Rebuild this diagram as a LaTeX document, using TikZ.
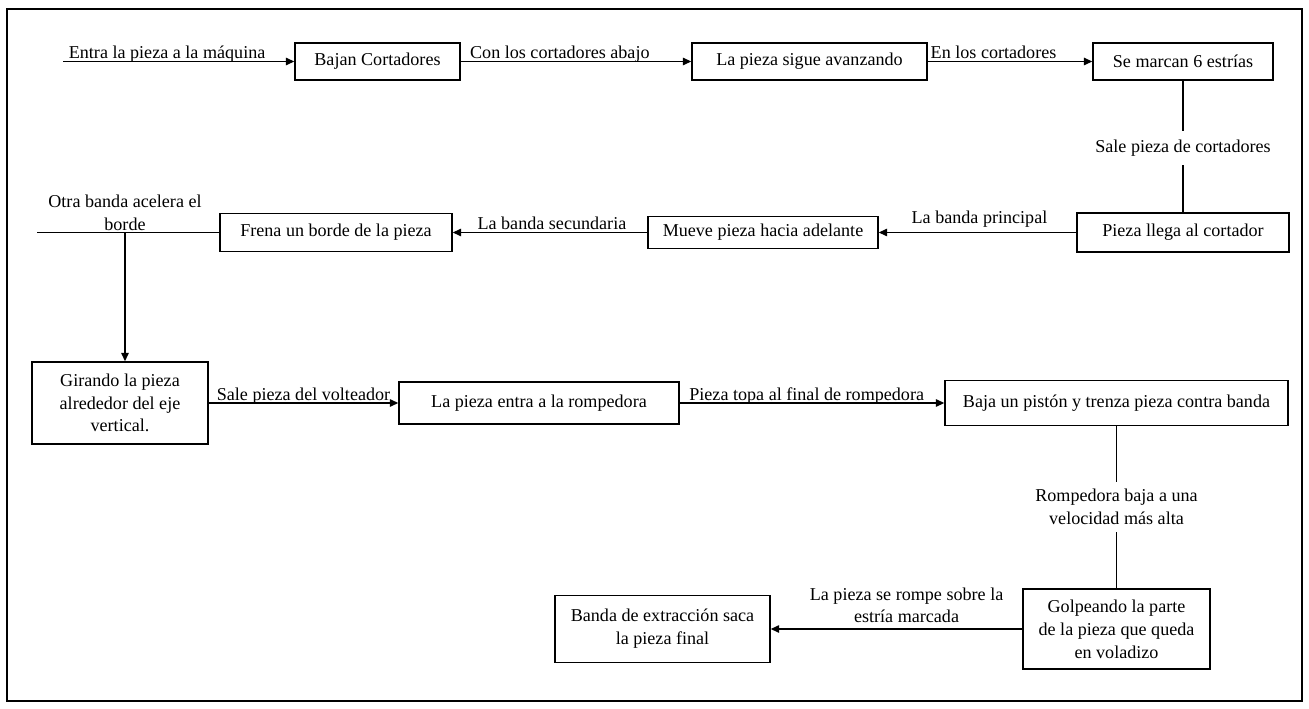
\documentclass[tikz,border=0pt]{standalone}
\usepackage{fontspec}
\setmainfont{Liberation Serif}
\usetikzlibrary{arrows.meta}

\begin{document}
\begin{tikzpicture}[>={Triangle[length=1.7mm, width=1.5mm]},
    every node/.style={font=\fontsize{10.3}{13}\selectfont},
    caja/.style={draw, line width=0.8pt, align=center, minimum height=0.74cm},
    flecha/.style={->, line width=0.8pt},
    linea/.style={line width=0.8pt},
    etiq/.style={anchor=base, yshift=1.5pt, inner sep=0pt}]
    \useasboundingbox (0,0) rectangle (26.18,-14.18);
    \draw[line width=1pt] (0.14,-0.18) rectangle (26.04,-14.02);

    \coordinate (entrada) at (1.26,-1.23);
    \node[caja, minimum width=3.30cm] (bajan) at (7.55,-1.23) {Bajan Cortadores};
    \node[caja, minimum width=4.70cm] (sigue) at (16.19,-1.23) {La pieza sigue avanzando};
    \node[caja, minimum width=3.60cm] (marcan) at (23.66,-1.23) {Se marcan 6 estrías};
    \draw[flecha] (entrada) -- node[etiq, pos=0.45] {Entra la pieza a la máquina} (bajan);
    \draw[flecha] (bajan) -- node[etiq, pos=0.43] {Con los cortadores abajo} (sigue);
    \draw[flecha] (sigue) -- node[etiq, pos=0.40] {En los cortadores} (marcan);

    \node[inner sep=5pt] (salecort) at (23.66,-2.96) {Sale pieza de cortadores};
    \node[caja, minimum width=4.24cm, minimum height=0.78cm] (llega) at (23.66,-4.65) {Pieza llega al cortador};
    \node[caja, minimum width=4.60cm, minimum height=0.64cm] (mueve) at (15.26,-4.65) {Mueve pieza hacia adelante};
    \node[caja, minimum width=4.64cm, minimum height=0.76cm] (frena) at (6.72,-4.65) {Frena un borde de la pieza};
    \draw[linea] (marcan) -- (salecort) -- (llega);
    \draw[flecha] (llega) -- node[etiq, pos=0.49, yshift=3.5pt] {La banda principal} (mueve);
    \draw[flecha] (mueve) -- node[etiq, pos=0.49] {La banda secundaria} (frena);

    \coordinate (izq) at (0.74,-4.65);
    \coordinate (rama) at (2.50,-4.65);
    \draw[linea] (frena) -- (izq);
    \node[above, inner sep=1pt, align=center] (otra) at (rama) {Otra banda acelera el\\borde};
    \node[caja, minimum width=3.52cm, minimum height=1.64cm] (girando) at (2.40,-8.06) {Girando la pieza\\alrededor del eje\\vertical.};
    \draw[flecha] (rama) -- (rama |- girando.north);

    \node[caja, minimum width=5.60cm, minimum height=0.84cm] (entra) at (10.78,-8.06) {La pieza entra a la rompedora};
    \node[caja, minimum width=6.86cm, minimum height=0.90cm] (baja) at (22.33,-8.06) {Baja un pistón y trenza pieza contra banda};
    \draw[flecha] (girando) -- node[etiq, pos=0.5] {Sale pieza del volteador} (entra);
    \draw[flecha] (entra) -- node[etiq, pos=0.48] {Pieza topa al final de rompedora} (baja);

    \node[inner sep=4pt, align=center] (velocidad) at (22.33,-10.14) {Rompedora baja a una\\velocidad más alta};
    \node[caja, minimum width=3.74cm, minimum height=1.60cm] (golpe) at (22.33,-12.58) {Golpeando la parte\\de la pieza que queda\\en voladizo};
    \node[caja, minimum width=4.30cm, minimum height=1.34cm] (extraccion) at (13.25,-12.58) {Banda de extracción saca\\la pieza final};
    \draw[linea] (baja) -- (velocidad) -- (golpe);
    \draw[flecha] (golpe) -- node[above, pos=0.46, align=center, inner sep=3pt] {La pieza se rompe sobre la\\estría marcada} (extraccion);
\end{tikzpicture}
\end{document}
